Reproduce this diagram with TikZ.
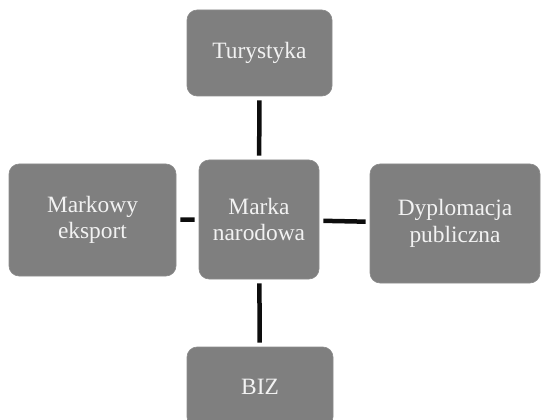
\documentclass[tikz,border=0pt]{standalone}
\usepackage{fontspec}
\setmainfont{Liberation Serif}
\definecolor{boxgray}{HTML}{7F7F7F}
\definecolor{boxline}{HTML}{8C8C8C}
\definecolor{boxtext}{HTML}{F2F2F2}
\begin{document}
\begin{tikzpicture}[x=1pt, y=-1pt,
				    box/.style={draw=boxline, line width=0.6pt, fill=boxgray,
				    			rounded corners=10pt, inner sep=0pt, align=center,
				    			text=boxtext, font=\fontsize{23.4}{26.5}\selectfont},
				    link/.style={line width=4.5pt, black!95, shorten <=4pt, shorten >=4pt}]
	\useasboundingbox (0, 0) rectangle (542, 420);
	\clip (0, 0) rectangle (542, 420);
	\node[box, minimum width=145pt, minimum height=86pt] (tur) at (259.5, 53) {Turystyka};
	\node[box, minimum width=120pt, minimum height=119pt] (marka) at (259, 219.5) {Marka\\narodowa};
	\node[box, minimum width=167pt, minimum height=112pt] (eksport) at (92.5, 220) {Markowy\\eksport};
	\node[box, minimum width=170pt, minimum height=119pt] (dypl) at (455, 223.5) {Dyplomacja\\publiczna};
	\node[box, minimum width=146pt, minimum height=80pt] (biz) at (260, 387) {BIZ};
	
	\path[link] 	(tur)     edge   (marka);
	\path[link] 	(marka)   edge   (biz);
	\path[link] 	(eksport) edge   (marka);
	\path[link] 	(marka)   edge   (dypl);
	
\end{tikzpicture}
\end{document}
